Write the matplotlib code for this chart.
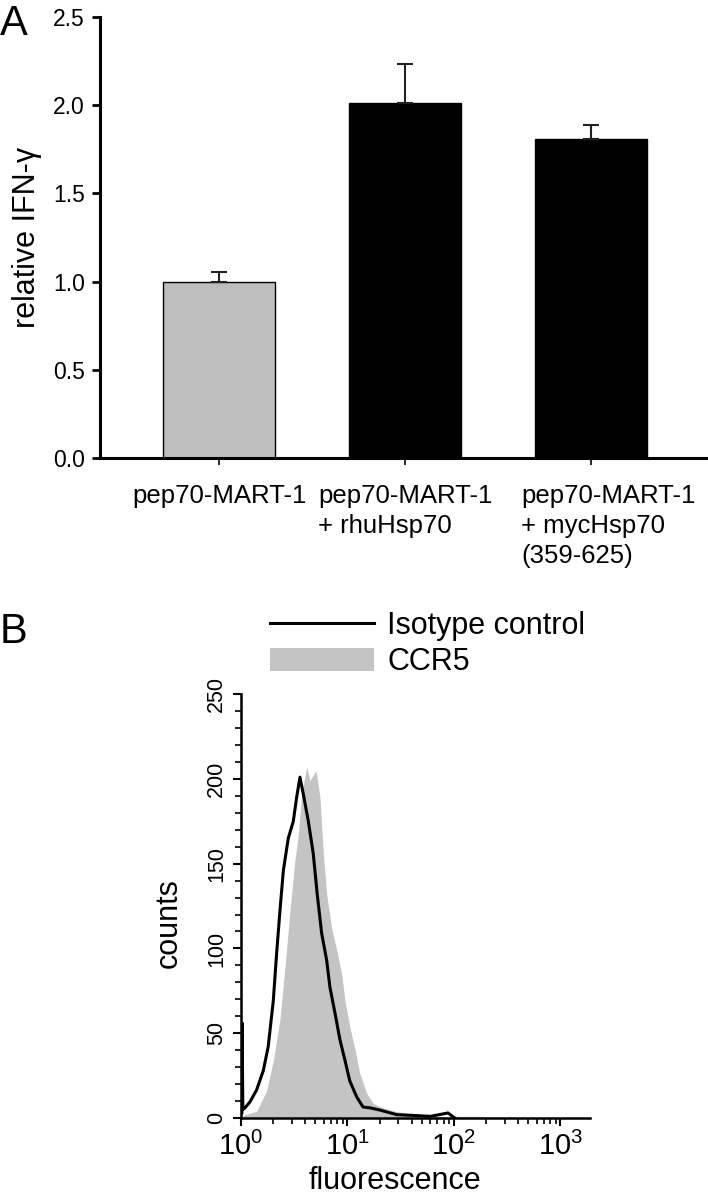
import numpy as np
import matplotlib
matplotlib.use('Agg')
import matplotlib.pyplot as plt
from matplotlib.patches import Patch
from matplotlib.lines import Line2D
from matplotlib.transforms import ScaledTranslation
from matplotlib.ticker import MultipleLocator, LogLocator, NullFormatter

plt.rcParams['font.family'] = ['Liberation Sans', 'DejaVu Sans']

# panel A data
groups = ['pep70-MART-1', 'pep70-MART-1\n+ rhuHsp70', 'pep70-MART-1\n+ mycHsp70\n(359-625)']
ifn = [1.0, 2.01, 1.81]
ifn_err = [0.055, 0.22, 0.075]
bar_colors = ['#bdbdbd', 'black', 'black']

# panel B data (fluorescence, counts)
iso_x = [1.00, 1.02, 1.025, 1.04, 1.09, 1.21, 1.40, 1.62, 1.80, 2.01, 2.16, 2.32, 2.50, 2.78,
         3.10, 3.33, 3.58, 3.85, 4.29, 4.77, 5.20, 5.72, 6.38, 6.85, 7.63, 8.51, 9.48,
         10.5, 12.2, 14.0, 16.3, 20.2, 29.0, 43.0, 60.0, 88.0, 102.0]
iso_y = [3, 3, 56, 5, 6, 9.4, 16.5, 28, 42, 69, 97, 122, 146, 165,
         175, 189, 201, 191, 175, 156, 132, 109, 93, 77, 62, 46, 34,
         22, 12.5, 6.5, 6, 4.7, 2, 1.5, 1, 3, 0]
ccr5_x = [1.00, 1.09, 1.40, 1.74, 2.01, 2.32, 2.59, 2.88, 3.21, 3.45, 3.71, 4.14, 4.45, 5.06,
          5.52, 5.93, 6.38, 7.10, 7.94, 8.82, 9.48, 10.5, 11.8, 13.1, 15.1, 17.5, 20.2,
          28.0, 43.0, 74.0, 175.0, 415.0, 1900.0]
ccr5_y = [0, 2, 4, 16, 34, 58, 89, 122, 152, 167, 191, 207, 199, 205,
          189, 156, 132, 112, 99, 85, 69, 54, 40, 26, 14.7, 8.6, 6.7,
          4, 2, 1, 1, 0.5, 0]

fig = plt.figure(figsize=(7.08, 12), dpi=100)

## panel A
ax1 = fig.add_axes([0.1412, 0.6183, 0.857, 0.3677])
pos = np.arange(len(groups))
ax1.bar(pos, ifn, width=0.6, color=bar_colors, edgecolor='black', linewidth=1)
ax1.errorbar(pos, ifn, yerr=[np.zeros(3), ifn_err], fmt='none', ecolor='#222222',
             elinewidth=1.5, capsize=6, capthick=1.5)
ax1.set_xlim(-0.64, 2.62)
ax1.set_ylim(0, 2.5)
ax1.set_yticks([0, 0.5, 1.0, 1.5, 2.0, 2.5])
ax1.set_yticklabels(['0.0', '0.5', '1.0', '1.5', '2.0', '2.5'])
ax1.set_xticks(pos)
ax1.set_xticklabels(groups, fontsize=18.5)
ax1.set_ylabel('relative IFN-\u03b3', fontsize=22, labelpad=8)
for s in ['top', 'right']:
    ax1.spines[s].set_visible(False)
for s in ['left', 'bottom']:
    ax1.spines[s].set_linewidth(2.2)
ax1.tick_params(axis='y', labelsize=16.5, length=6, width=2, pad=5)
ax1.tick_params(axis='x', length=5, width=1.2, pad=14)
for t in ax1.get_xticklabels():
    t.set_multialignment('left')
    t.set_linespacing(1.3)
# last label sits a bit right of its tick in the original
last = ax1.get_xticklabels()[-1]
last.set_transform(last.get_transform() + ScaledTranslation(0.17, 0, fig.dpi_scale_trans))

fig.text(0.0, 0.997, 'A', fontsize=30, va='top', ha='left')

## panel B
ax2 = fig.add_axes([0.3404, 0.0683, 0.493, 0.3533])
ax2.set_xscale('log')
ax2.fill_between(ccr5_x, ccr5_y, 0, color='#c4c4c4', linewidth=0)
ax2.plot(iso_x, iso_y, color='black', linewidth=2.2)
ax2.set_xlim(1, 1900)
ax2.set_ylim(0, 250)
ax2.yaxis.set_major_locator(MultipleLocator(50))
ax2.yaxis.set_minor_locator(MultipleLocator(10))
ax2.xaxis.set_major_locator(LogLocator(base=10))
ax2.xaxis.set_minor_locator(LogLocator(base=10, subs=np.arange(2, 10)))
ax2.xaxis.set_minor_formatter(NullFormatter())
ax2.set_xticks([1, 10, 100, 1000])
ax2.set_xticklabels(['$\\mathregular{10^{0}}$', '$\\mathregular{10^{1}}$',
                     '$\\mathregular{10^{2}}$', '$\\mathregular{10^{3}}$'], fontsize=21)
for t in ax2.get_yticklabels():
    t.set_rotation(90)
    t.set_va('center')
ax2.tick_params(axis='y', which='major', labelsize=15.5, length=6, width=1.5, pad=4)
ax2.tick_params(axis='y', which='minor', length=4, width=1.2)
ax2.tick_params(axis='x', which='major', length=6, width=1.5, pad=4)
ax2.tick_params(axis='x', which='minor', length=4, width=1.2)
for s in ['top', 'right']:
    ax2.spines[s].set_visible(False)
for s in ['left', 'bottom']:
    ax2.spines[s].set_linewidth(1.8)
ax2.set_xlabel('fluorescence', fontsize=22)
ax2.set_ylabel('counts', fontsize=22)
ax2.xaxis.set_label_coords(0.44, -0.112)
ax2.yaxis.set_label_coords(-0.165, 0.46)

handles = [Line2D([], [], color='black', linewidth=2.2),
           Patch(facecolor='#c4c4c4', edgecolor='none')]
ax2.legend(handles, ['Isotype control', 'CCR5'], loc='upper left',
           bbox_to_anchor=(0.381, 0.491), bbox_transform=fig.transFigure,
           frameon=False, fontsize=22, handlelength=3.4, handleheight=0.8,
           borderpad=0, borderaxespad=0, handletextpad=0.45, labelspacing=0.2)

fig.text(0.0, 0.49, 'B', fontsize=30, va='top', ha='left')

fig.savefig('out.png', dpi=100)
